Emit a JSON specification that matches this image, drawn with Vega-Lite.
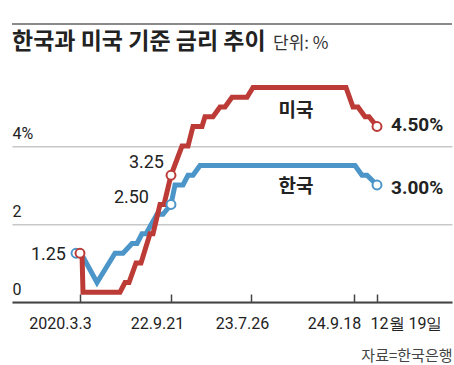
{
  "$schema": "https://vega.github.io/schema/vega-lite/v6.json",
  "width": 440,
  "height": 280.8,
  "autosize": {"type": "none"},
  "padding": {"left": 12, "top": 21.2, "right": 2, "bottom": 63},
  "background": "white",
  "config": {"view": {"stroke": null}, "font": "Roboto"},
  "datasets": {
    "topline": [{"t": 0, "t2": 440, "v": 7.13}],
    "kr": [
      {"i": 0, "t": 64, "v": 1.25}, {"i": 1, "t": 69, "v": 1.25}, {"i": 2, "t": 85, "v": 0.5},
      {"i": 3, "t": 103, "v": 1.25}, {"i": 4, "t": 111, "v": 1.25}, {"i": 5, "t": 120, "v": 1.5},
      {"i": 6, "t": 125, "v": 1.5}, {"i": 7, "t": 130, "v": 1.75}, {"i": 8, "t": 134, "v": 1.75},
      {"i": 9, "t": 145, "v": 2.25}, {"i": 10, "t": 151, "v": 2.25}, {"i": 11, "t": 159, "v": 2.5},
      {"i": 12, "t": 163, "v": 3.0}, {"i": 13, "t": 171, "v": 3.0}, {"i": 14, "t": 176, "v": 3.25},
      {"i": 15, "t": 181, "v": 3.25}, {"i": 16, "t": 188, "v": 3.5}, {"i": 17, "t": 343, "v": 3.5},
      {"i": 18, "t": 350, "v": 3.25}, {"i": 19, "t": 355, "v": 3.25}, {"i": 20, "t": 365, "v": 3.0}
    ],
    "us": [
      {"i": 0, "t": 68, "v": 1.25}, {"i": 1, "t": 70, "v": 1.25}, {"i": 2, "t": 71, "v": 0.25},
      {"i": 3, "t": 108, "v": 0.25}, {"i": 4, "t": 113, "v": 0.5}, {"i": 5, "t": 117, "v": 0.5},
      {"i": 6, "t": 124, "v": 1.0}, {"i": 7, "t": 129, "v": 1.0}, {"i": 8, "t": 138, "v": 1.75},
      {"i": 9, "t": 141, "v": 1.75}, {"i": 10, "t": 148, "v": 2.5}, {"i": 11, "t": 152, "v": 2.5},
      {"i": 12, "t": 159, "v": 3.25}, {"i": 13, "t": 170, "v": 4.0}, {"i": 14, "t": 176, "v": 4.0},
      {"i": 15, "t": 181, "v": 4.5}, {"i": 16, "t": 190, "v": 4.5}, {"i": 17, "t": 193, "v": 4.75},
      {"i": 18, "t": 201, "v": 4.75}, {"i": 19, "t": 208, "v": 5.0}, {"i": 20, "t": 213, "v": 5.0},
      {"i": 21, "t": 220, "v": 5.25}, {"i": 22, "t": 235, "v": 5.25}, {"i": 23, "t": 241, "v": 5.5},
      {"i": 24, "t": 334, "v": 5.5}, {"i": 25, "t": 341, "v": 5.0}, {"i": 26, "t": 346, "v": 5.0},
      {"i": 27, "t": 353, "v": 4.75}, {"i": 28, "t": 357, "v": 4.75}, {"i": 29, "t": 365, "v": 4.5}
    ],
    "dots": [
      {"s": "kr", "t": 64, "v": 1.25}, {"s": "kr", "t": 159, "v": 2.5}, {"s": "kr", "t": 365, "v": 3.0},
      {"s": "us", "t": 68, "v": 1.25}, {"s": "us", "t": 159, "v": 3.25}, {"s": "us", "t": 365, "v": 4.5}
    ],
    "numlabels": [
      {"label": "1.25", "t": 54, "v": 1.2},
      {"label": "3.25", "t": 152, "v": 3.56},
      {"label": "2.50", "t": 137, "v": 2.67}
    ],
    "endlabels": [
      {"label": "4.50%", "t": 379, "v": 4.54},
      {"label": "3.00%", "t": 379, "v": 2.92}
    ],
    "names": [
      {"label": "미국", "t": 284, "v": 4.9},
      {"label": "한국", "t": 284, "v": 2.95}
    ],
    "headline": [{"label": "한국과 미국 기준 금리 추이", "t": 0, "v": 6.49}],
    "unit": [{"label": "단위: %", "t": 261, "v": 6.49}]
  },
  "encoding": {
    "x": {
      "field": "t",
      "type": "quantitative",
      "scale": {"domain": [0, 440], "nice": false, "zero": false},
      "axis": {
        "values": [68, 159, 239, 342, 365],
        "labelExpr": "datum.value == 68 ? '2020.3.3' : datum.value == 159 ? '22.9.21' : datum.value == 239 ? '23.7.26' : datum.value == 342 ? '24.9.18' : '12월 19일'",
        "labelOffset": {"expr": "datum.value == 68 ? -20 : datum.value == 159 ? -14 : datum.value == 239 ? -9 : datum.value == 342 ? -20 : 29"},
        "labelFont": "Roboto",
        "labelFontSize": 16,
        "labelColor": "#222222",
        "labelBaseline": "alphabetic",
        "labelPadding": 34,
        "labelFlush": false,
        "labelOverlap": false,
        "labelBound": false,
        "tickSize": -8,
        "tickColor": "#444444",
        "tickWidth": 1.5,
        "domainColor": "#444444",
        "domainWidth": 2,
        "grid": false,
        "title": "자료=한국은행",
        "titleFont": "Noto Sans CJK KR",
        "titleFontSize": 15,
        "titleFontWeight": "normal",
        "titleColor": "#444444",
        "titleAnchor": "end",
        "titleAlign": "right",
        "titleBaseline": "middle",
        "titleX": 440,
        "titleY": 53
      }
    },
    "y": {
      "field": "v",
      "type": "quantitative",
      "scale": {"domain": [0, 7.2], "nice": false, "zero": false},
      "axis": {
        "values": [0, 2, 4],
        "labelExpr": "datum.value == 4 ? '4%' : datum.label",
        "labelFont": "Roboto",
        "labelFontSize": 16,
        "labelColor": "#222222",
        "labelAlign": "left",
        "labelBaseline": "alphabetic",
        "labelPadding": 0,
        "labelOffset": -8,
        "ticks": false,
        "domain": false,
        "grid": true,
        "gridColor": "#c8c8c8",
        "gridWidth": 1.5,
        "title": null
      }
    }
  },
  "layer": [
    {
      "data": {"name": "topline"},
      "mark": {"type": "rule", "color": "#8a8a8a", "strokeWidth": 2},
      "encoding": {"x2": {"field": "t2"}}
    },
    {
      "data": {"name": "kr"},
      "mark": {"type": "line", "color": "#4b95c9", "strokeWidth": 5},
      "encoding": {"order": {"field": "i", "type": "quantitative"}}
    },
    {
      "data": {"name": "us"},
      "mark": {"type": "line", "color": "#bc3b36", "strokeWidth": 5},
      "encoding": {"order": {"field": "i", "type": "quantitative"}}
    },
    {
      "data": {"name": "dots"},
      "mark": {"type": "point", "shape": "circle", "filled": false, "fill": "white", "fillOpacity": 1, "strokeWidth": 2, "size": 80, "opacity": 1},
      "encoding": {
        "stroke": {"field": "s", "type": "nominal", "scale": {"domain": ["kr", "us"], "range": ["#4b95c9", "#bc3b36"]}, "legend": null}
      }
    },
    {
      "data": {"name": "numlabels"},
      "mark": {"type": "text", "align": "right", "baseline": "middle", "font": "Roboto", "fontSize": 18, "color": "#222222"},
      "encoding": {"text": {"field": "label"}}
    },
    {
      "data": {"name": "endlabels"},
      "mark": {"type": "text", "align": "left", "baseline": "middle", "font": "Roboto", "fontSize": 19, "fontWeight": "bold", "color": "#222222"},
      "encoding": {"text": {"field": "label"}}
    },
    {
      "data": {"name": "names"},
      "mark": {"type": "text", "align": "center", "baseline": "middle", "font": "Noto Sans CJK KR", "fontSize": 19, "fontWeight": "bold", "color": "#222222"},
      "encoding": {"text": {"field": "label"}}
    },
    {
      "data": {"name": "headline"},
      "mark": {"type": "text", "align": "left", "baseline": "alphabetic", "font": "Noto Sans CJK KR", "fontSize": 23, "fontWeight": "bold", "color": "#222222"},
      "encoding": {"text": {"field": "label"}}
    },
    {
      "data": {"name": "unit"},
      "mark": {"type": "text", "align": "left", "baseline": "alphabetic", "font": "Noto Sans CJK KR", "fontSize": 17, "color": "#333333"},
      "encoding": {"text": {"field": "label"}}
    }
  ]
}
